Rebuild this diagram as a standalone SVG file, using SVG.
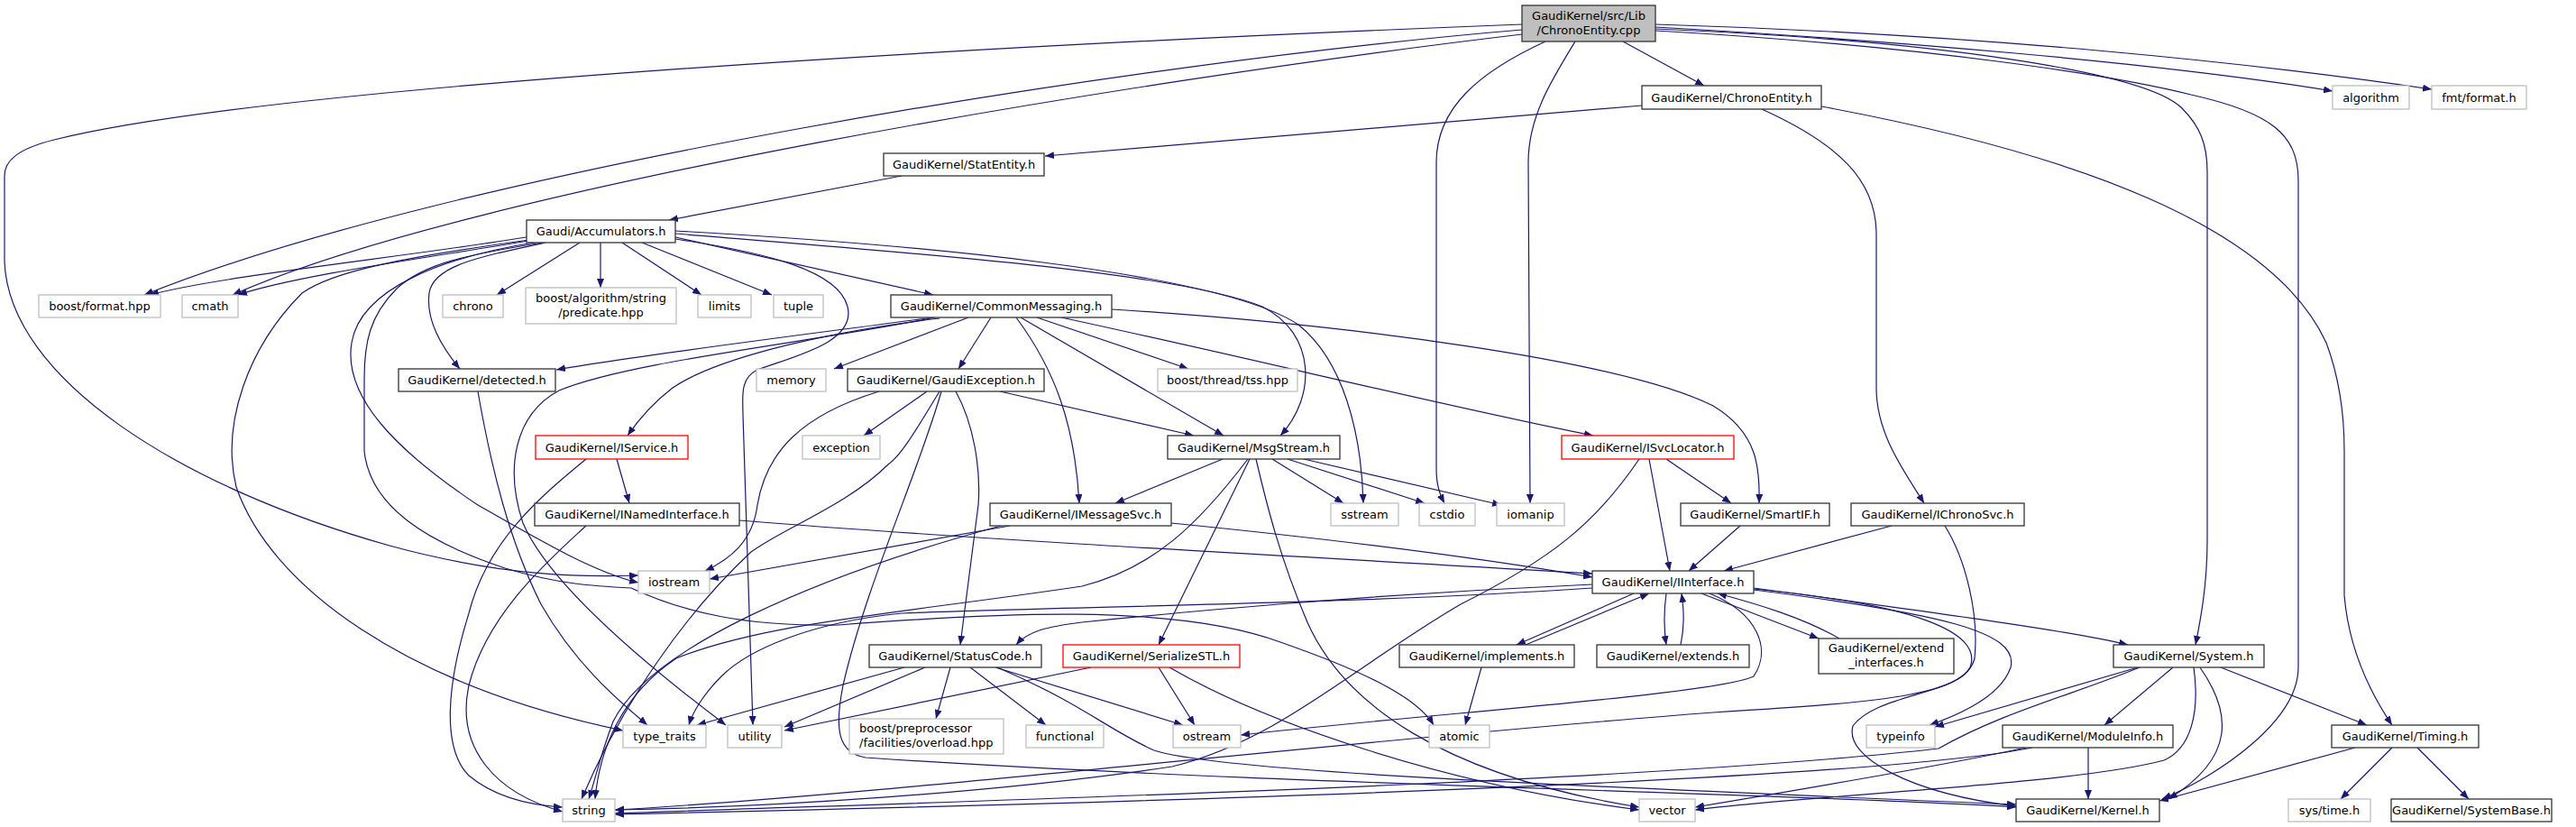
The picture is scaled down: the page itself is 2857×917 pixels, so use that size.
<svg xmlns="http://www.w3.org/2000/svg" width="2857" height="917" viewBox="0 0 2857 917">
<defs>
<marker id="a" markerWidth="10" markerHeight="8" refX="10" refY="4" orient="auto" markerUnits="userSpaceOnUse"><path d="M0,0 L10,4 L0,8 z" fill="#191970"/></marker>
<style>
.e path{fill:none;stroke:#191970;stroke-width:1.2;marker-end:url(#a)}
.n rect{fill:#fff;stroke:#333;stroke-width:1.3}
.g rect{fill:#fff;stroke:#bfbfbf;stroke-width:1.3}
.r rect{fill:#fff;stroke:#ff0000;stroke-width:1.3}
#root rect{fill:#bfbfbf;stroke:#333;stroke-width:1.3}
text{font-family:"DejaVu Sans","Liberation Sans",sans-serif;font-size:13px;fill:#000;text-anchor:middle}
text.l{text-anchor:start}
</style>
</defs>
<rect width="2857" height="917" fill="#fff"/>
<g id="edges" class="e">
<path d="M1800,46 L1890,95"/>
<path d="M1688,33 C1250,70 500,190 160,327"/>
<path d="M1688,38 C1250,90 520,210 258,327"/>
<path d="M1688,27 C1100,50 300,95 60,155 C20,165 5,178 5,195 L5,290 C10,420 200,540 432,605 C560,640 650,640 708,638"/>
<path d="M1714,46 C1640,80 1593,120 1593,180 L1593,520 C1593,540 1598,550 1602,558"/>
<path d="M1747,46 C1720,90 1695,130 1695,180 L1697,558"/>
<path d="M1836,30 C2100,45 2400,70 2587,101"/>
<path d="M1836,27 C2200,38 2500,70 2697,99"/>
<path d="M1836,32 C2150,45 2380,80 2420,120 C2440,140 2448,160 2448,190 L2448,600 C2448,650 2440,690 2435,715"/>
<path d="M1836,34 C2150,52 2350,85 2430,105 C2520,125 2549,150 2549,200 L2549,740 C2549,800 2460,860 2398,886"/>
<path d="M1821,117 L1159,173"/>
<path d="M1954,121 C2040,160 2081,200 2081,260 L2081,430 C2081,480 2110,520 2134,558"/>
<path d="M2020,118 C2300,170 2520,250 2580,380 C2595,420 2600,460 2600,500 L2600,660 C2605,720 2630,770 2653,804"/>
<path d="M1000,195 L742,244"/>
<path d="M590,262 C450,285 250,305 166,327"/>
<path d="M592,266 C480,285 330,305 264,327"/>
<path d="M643,269 L551,327"/>
<path d="M666,269 L666,319"/>
<path d="M690,269 L778,327"/>
<path d="M712,269 L856,327"/>
<path d="M749,263 L1035,327"/>
<path d="M605,269 C530,285 480,295 476,325 C472,355 490,385 510,409"/>
<path d="M598,268 C490,285 400,320 390,380 C380,440 440,500 530,560 C600,600 660,635 708,646"/>
<path d="M594,265 C450,285 370,300 335,325 C275,385 245,470 262,540 C300,650 450,760 691,810"/>
<path d="M749,265 C850,280 930,300 940,340 C950,380 880,395 840,410 C820,420 824,440 824,460 L835,804"/>
<path d="M602,269 C520,282 470,292 440,320 C410,350 404,380 404,420 L404,500 C410,560 470,600 560,630 C620,648 660,650 700,652 C760,680 830,695 930,693 C1100,680 1300,668 1420,712 C1500,740 1570,770 1590,804"/>
<path d="M749,256 C1000,270 1350,300 1440,360 C1490,400 1510,480 1512,558"/>
<path d="M749,259 C1000,280 1300,300 1400,340 C1460,370 1460,440 1420,483"/>
<path d="M1035,352 C900,370 700,395 617,410"/>
<path d="M1037,352 C900,380 700,400 620,433 C570,460 560,520 580,580 C610,650 720,740 805,804"/>
<path d="M1042,353 C900,370 790,400 746,430 C720,450 705,470 696,483"/>
<path d="M1074,352 L925,409"/>
<path d="M1099,352 L1063,409"/>
<path d="M1127,352 C1170,410 1192,470 1197,558"/>
<path d="M1132,352 L1357,483"/>
<path d="M1150,352 L1318,409"/>
<path d="M1177,352 C1400,400 1600,450 1767,483"/>
<path d="M1233,343 C1500,360 1800,400 1900,450 C1950,480 1952,520 1951,558"/>
<path d="M1028,434 L958,483"/>
<path d="M1109,434 L1324,483"/>
<path d="M1060,434 C1080,470 1088,520 1085,560 L1065,715"/>
<path d="M1044,434 C1020,520 960,650 935,760 C925,810 930,835 960,840 C1400,870 2000,880 2236,895"/>
<path d="M975,434 C890,460 850,500 840,560 C835,600 810,620 782,633"/>
<path d="M1042,434 C1020,470 1000,505 985,515 C940,560 870,585 833,612 C760,680 690,780 645,886"/>
<path d="M1120,583 L787,642"/>
<path d="M1110,583 C900,640 720,720 680,800 C665,840 660,865 653,886"/>
<path d="M1299,580 C1500,600 1650,620 1766,640"/>
<path d="M1356,509 L1237,558"/>
<path d="M1411,509 L1490,558"/>
<path d="M1428,509 L1580,558"/>
<path d="M1446,509 L1665,560"/>
<path d="M1386,509 L1285,715"/>
<path d="M1384,509 C1330,580 1280,630 1200,650 C1000,680 850,690 750,730 C690,770 665,830 660,886"/>
<path d="M1393,509 C1405,560 1420,620 1450,690 C1490,780 1600,860 1818,895"/>
<path d="M684,509 L698,558"/>
<path d="M650,509 C600,550 540,600 520,680 C495,760 490,830 520,860 C550,885 590,893 624,895"/>
<path d="M820,577 C1100,600 1500,620 1766,636"/>
<path d="M650,583 C610,620 540,680 520,760 C505,830 550,880 624,900"/>
<path d="M1848,509 L1920,558"/>
<path d="M1829,509 L1852,633"/>
<path d="M1818,509 C1770,580 1720,620 1620,670 C1500,740 1420,820 1300,850 C1100,880 850,895 682,898"/>
<path d="M1930,583 L1873,633"/>
<path d="M2098,583 L1912,633"/>
<path d="M2157,583 C2180,620 2195,680 2190,730 C2180,770 2100,778 1900,790 C1500,820 1000,880 682,898"/>
<path d="M1812,658 L1682,715"/>
<path d="M1692,715 L1829,658"/>
<path d="M1848,658 C1845,680 1845,695 1848,715"/>
<path d="M1864,715 C1868,695 1868,680 1865,658"/>
<path d="M1887,658 L2017,708"/>
<path d="M2040,708 C2000,685 1950,670 1905,658"/>
<path d="M1766,648 C1500,660 1300,680 1200,690 C1160,695 1140,700 1127,715"/>
<path d="M1766,652 C1500,670 1200,672 1000,680 C900,690 830,720 800,750 C780,770 768,790 764,804"/>
<path d="M1896,658 C1950,680 1965,720 1945,750 C1900,770 1600,790 1376,815"/>
<path d="M1945,652 C2150,680 2300,700 2360,715"/>
<path d="M1945,654 C2150,680 2240,700 2230,740 C2220,770 2180,790 2140,804"/>
<path d="M1945,653 C2120,670 2200,700 2185,740 C2170,770 2080,770 2055,805 C2045,840 2120,880 2236,894"/>
<path d="M1003,740 L773,804"/>
<path d="M1026,740 L870,806"/>
<path d="M1054,740 L1038,797"/>
<path d="M1076,740 L1160,804"/>
<path d="M1104,740 L1312,804"/>
<path d="M1106,740 C1200,780 1230,810 1280,832 C1350,855 1700,870 2236,892"/>
<path d="M1210,740 L870,810"/>
<path d="M1285,740 L1325,804"/>
<path d="M1297,740 C1400,800 1600,870 1818,898"/>
<path d="M1643,740 L1625,804"/>
<path d="M2371,740 L2146,806"/>
<path d="M2410,740 L2334,804"/>
<path d="M2440,740 C2475,790 2480,840 2405,886"/>
<path d="M2433,740 C2440,790 2430,830 2400,843 C2300,870 2000,882 1880,898"/>
<path d="M2373,740 C2300,770 2220,790 2150,830 C1800,870 1000,890 682,902"/>
<path d="M2463,740 L2625,804"/>
<path d="M2254,829 C2100,860 1500,885 682,903"/>
<path d="M2247,829 C2150,850 2000,875 1880,895"/>
<path d="M2316,829 L2316,886"/>
<path d="M2612,829 L2395,888"/>
<path d="M2653,829 L2596,886"/>
<path d="M2681,829 L2738,886"/>
<path d="M530,434 C545,520 565,600 600,670 C640,740 690,780 718,804"/>
</g>
<g id="root"><rect x="1688" y="6" width="148" height="40"/><text x="1762" y="22">GaudiKernel/src/Lib</text><text x="1762" y="38">/ChronoEntity.cpp</text></g>
<g id="chronoentity_h" class="n"><rect x="1821" y="95" width="199" height="26"/><text x="1920.5" y="112.5">GaudiKernel/ChronoEntity.h</text></g>
<g id="algorithm" class="g"><rect x="2587" y="95" width="85" height="26"/><text x="2629.5" y="112.5">algorithm</text></g>
<g id="fmt_format_h" class="g"><rect x="2697" y="95" width="105" height="26"/><text x="2749.5" y="112.5">fmt/format.h</text></g>
<g id="statentity_h" class="n"><rect x="980" y="170" width="178" height="25"/><text x="1069" y="187">GaudiKernel/StatEntity.h</text></g>
<g id="accumulators_h" class="n"><rect x="584" y="244" width="165" height="25"/><text x="666.5" y="261">Gaudi/Accumulators.h</text></g>
<g id="boost_format_hpp" class="g"><rect x="43" y="327" width="135" height="25"/><text x="110.5" y="344">boost/format.hpp</text></g>
<g id="cmath" class="g"><rect x="202" y="327" width="62" height="25"/><text x="233" y="344">cmath</text></g>
<g id="chrono" class="g"><rect x="491" y="327" width="67" height="25"/><text x="524.5" y="344">chrono</text></g>
<g id="predicate_hpp" class="g"><rect x="583" y="319" width="167" height="40"/><text x="666.5" y="335">boost/algorithm/string</text><text x="666.5" y="351">/predicate.hpp</text></g>
<g id="limits" class="g"><rect x="774" y="327" width="59" height="25"/><text x="803.5" y="344">limits</text></g>
<g id="tuple" class="g"><rect x="858" y="327" width="55" height="25"/><text x="885.5" y="344">tuple</text></g>
<g id="commonmessaging_h" class="n"><rect x="988" y="327" width="245" height="25"/><text x="1110.5" y="344">GaudiKernel/CommonMessaging.h</text></g>
<g id="detected_h" class="n"><rect x="442" y="409" width="174" height="25"/><text x="529" y="426">GaudiKernel/detected.h</text></g>
<g id="memory" class="g"><rect x="839" y="409" width="77" height="25"/><text x="877.5" y="426">memory</text></g>
<g id="gaudiexception_h" class="n"><rect x="940" y="409" width="218" height="25"/><text x="1049" y="426">GaudiKernel/GaudiException.h</text></g>
<g id="tss_hpp" class="g"><rect x="1284" y="409" width="155" height="25"/><text x="1361.5" y="426">boost/thread/tss.hpp</text></g>
<g id="iservice_h" class="r"><rect x="594" y="483" width="169" height="26"/><text x="678.5" y="500.5">GaudiKernel/IService.h</text></g>
<g id="exception" class="g"><rect x="890" y="483" width="86" height="26"/><text x="933" y="500.5">exception</text></g>
<g id="msgstream_h" class="n"><rect x="1295" y="483" width="191" height="26"/><text x="1390.5" y="500.5">GaudiKernel/MsgStream.h</text></g>
<g id="isvclocator_h" class="r"><rect x="1732" y="483" width="191" height="26"/><text x="1827.5" y="500.5">GaudiKernel/ISvcLocator.h</text></g>
<g id="inamedinterface_h" class="n"><rect x="593" y="558" width="227" height="25"/><text x="706.5" y="575">GaudiKernel/INamedInterface.h</text></g>
<g id="imessagesvc_h" class="n"><rect x="1098" y="558" width="201" height="25"/><text x="1198.5" y="575">GaudiKernel/IMessageSvc.h</text></g>
<g id="sstream" class="g"><rect x="1476" y="558" width="75" height="25"/><text x="1513.5" y="575">sstream</text></g>
<g id="cstdio" class="g"><rect x="1574" y="558" width="62" height="25"/><text x="1605" y="575">cstdio</text></g>
<g id="iomanip" class="g"><rect x="1660" y="558" width="75" height="25"/><text x="1697.5" y="575">iomanip</text></g>
<g id="smartif_h" class="n"><rect x="1864" y="558" width="165" height="25"/><text x="1946.5" y="575">GaudiKernel/SmartIF.h</text></g>
<g id="ichronosvc_h" class="n"><rect x="2053" y="558" width="192" height="25"/><text x="2149" y="575">GaudiKernel/IChronoSvc.h</text></g>
<g id="iostream" class="g"><rect x="708" y="633" width="79" height="25"/><text x="747.5" y="650">iostream</text></g>
<g id="iinterface_h" class="n"><rect x="1766" y="633" width="179" height="25"/><text x="1855.5" y="650">GaudiKernel/IInterface.h</text></g>
<g id="statuscode_h" class="n"><rect x="964" y="715" width="191" height="25"/><text x="1059.5" y="732">GaudiKernel/StatusCode.h</text></g>
<g id="serializestl_h" class="r"><rect x="1179" y="715" width="196" height="25"/><text x="1277" y="732">GaudiKernel/SerializeSTL.h</text></g>
<g id="implements_h" class="n"><rect x="1552" y="715" width="194" height="25"/><text x="1649" y="732">GaudiKernel/implements.h</text></g>
<g id="extends_h" class="n"><rect x="1771" y="715" width="169" height="25"/><text x="1855.5" y="732">GaudiKernel/extends.h</text></g>
<g id="extend_interfaces_h" class="n"><rect x="2017" y="708" width="150" height="39"/><text x="2092" y="723">GaudiKernel/extend</text><text x="2092" y="739">_interfaces.h</text></g>
<g id="system_h" class="n"><rect x="2344" y="715" width="167" height="25"/><text x="2427.5" y="732">GaudiKernel/System.h</text></g>
<g id="type_traits" class="g"><rect x="691" y="804" width="92" height="25"/><text x="737" y="821">type_traits</text></g>
<g id="utility" class="g"><rect x="807" y="804" width="60" height="25"/><text x="837" y="821">utility</text></g>
<g id="overload_hpp" class="g"><rect x="942" y="797" width="171" height="39"/><text class="l" x="953" y="812">boost/preprocessor</text><text class="l" x="953" y="828">/facilities/overload.hpp</text></g>
<g id="functional" class="g"><rect x="1138" y="804" width="86" height="25"/><text x="1181" y="821">functional</text></g>
<g id="ostream" class="g"><rect x="1301" y="804" width="75" height="25"/><text x="1338.5" y="821">ostream</text></g>
<g id="atomic" class="g"><rect x="1585" y="804" width="67" height="25"/><text x="1618.5" y="821">atomic</text></g>
<g id="typeinfo" class="g"><rect x="2070" y="804" width="76" height="25"/><text x="2108" y="821">typeinfo</text></g>
<g id="moduleinfo_h" class="n"><rect x="2221" y="804" width="189" height="25"/><text x="2315.5" y="821">GaudiKernel/ModuleInfo.h</text></g>
<g id="timing_h" class="n"><rect x="2586" y="804" width="163" height="25"/><text x="2667.5" y="821">GaudiKernel/Timing.h</text></g>
<g id="string" class="g"><rect x="624" y="886" width="58" height="25"/><text x="653" y="903">string</text></g>
<g id="vector" class="g"><rect x="1818" y="886" width="62" height="25"/><text x="1849" y="903">vector</text></g>
<g id="kernel_h" class="n"><rect x="2236" y="886" width="159" height="25"/><text x="2315.5" y="903">GaudiKernel/Kernel.h</text></g>
<g id="sys_time_h" class="g"><rect x="2538" y="886" width="91" height="25"/><text x="2583.5" y="903">sys/time.h</text></g>
<g id="systembase_h" class="n"><rect x="2652" y="886" width="178" height="25"/><text x="2741" y="903">GaudiKernel/SystemBase.h</text></g>
</svg>
